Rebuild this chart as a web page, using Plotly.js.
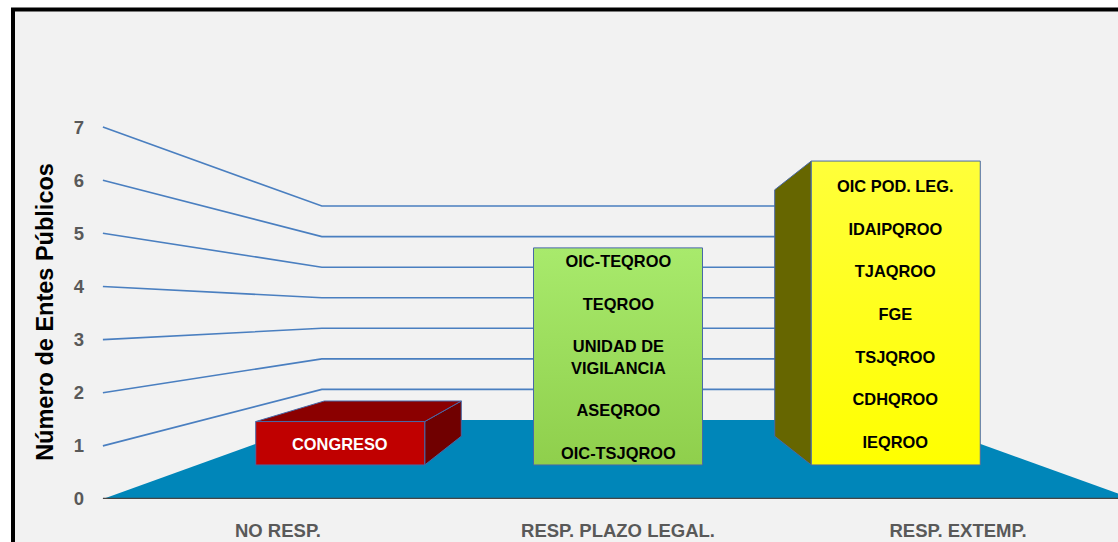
<!DOCTYPE html>
<html>
<head>
<meta charset="utf-8">
<script src="https://cdn.plot.ly/plotly-3.0.1.min.js"></script>
<style>html,body{margin:0;padding:0;background:#fff;}#chart{width:1118px;height:542px;}</style>
</head>
<body>
<div id="chart"></div>
<script>
// ---------------- data ----------------
const categories = ['NO RESP.', 'RESP. PLAZO LEGAL.', 'RESP. EXTEMP.'];
const values = [1, 5, 7];
const barLabels = [
  ['CONGRESO'],
  ['OIC-TEQROO', 'TEQROO', 'UNIDAD DE<br>VIGILANCIA', 'ASEQROO', 'OIC-TSJQROO'],
  ['OIC POD. LEG.', 'IDAIPQROO', 'TJAQROO', 'FGE', 'TSJQROO', 'CDHQROO', 'IEQROO']
];
const yTicks = [0, 1, 2, 3, 4, 5, 6, 7];

// ---------------- styles ----------------
const frontTop = ['#C00000', '#A8EA6C', '#FFFF3A'];
const frontBottom = ['#C00000', '#8FCF4C', '#FFFF00'];
const topColors = ['#8B0000', '#7DB83E', '#D8D800'];
const sideColors = ['#700000', '#5E8A2E', '#666600'];
const labelColors = ['#FFFFFF', '#000000', '#000000'];
const edgeColor = 'rgb(72,104,168)';
const floorColor = '#0086B9';
const gridColor = '#4A7FC0';
const FONT = 'Liberation Sans, Arial, sans-serif';

// perspective (in front-plane axis units)
const VX = 1.0, VY = 3.5;          // vanishing point
const R_FRONT = 0.817, R_BACK = 0.6624, R_WALL = 0.575;
const WALL_L = -0.515, WALL_R = 2.515;
const BAR_W = 0.6084;

function proj(x, v, r) { return [VX + r * (x - VX), VY + r * (v - VY)]; }
function poly(pts) {
  const xs = pts.map(p => p[0]), ys = pts.map(p => p[1]);
  xs.push(xs[0]); ys.push(ys[0]);
  return {x: xs, y: ys};
}

const traces = [];

// floor
const floorPts = poly([proj(WALL_L, 0, 1), proj(WALL_R, 0, 1), proj(WALL_R, 0, R_WALL), proj(WALL_L, 0, R_WALL)]);
traces.push({type: 'scatter', mode: 'lines', x: floorPts.x, y: floorPts.y, fill: 'toself',
  fillcolor: floorColor, line: {width: 0, color: floorColor}, hoverinfo: 'skip', showlegend: false});

// walls grid lines
const gx = [], gy = [];
yTicks.filter(t => t > 0).forEach(t => {
  [proj(WALL_L, t, 1), proj(WALL_L, t, R_WALL), proj(WALL_R, t, R_WALL)].forEach(p => { gx.push(p[0]); gy.push(p[1]); });
  gx.push(null); gy.push(null);
});
traces.push({type: 'scatter', mode: 'lines', x: gx, y: gy, line: {color: gridColor, width: 1.6},
  hoverinfo: 'skip', showlegend: false, connectgaps: false});

// floor front edge
const fe = [proj(WALL_L, 0, 1), proj(WALL_R, 0, 1)];
traces.push({type: 'scatter', mode: 'lines', x: fe.map(p => p[0]), y: fe.map(p => p[1]),
  line: {color: '#454545', width: 2.5}, hoverinfo: 'skip', showlegend: false});

const annotations = [];

categories.forEach((c, i) => {
  const v = values[i];
  const xl = i - BAR_W / 2, xr = i + BAR_W / 2;
  // side face
  if (Math.abs(i - VX) > 1e-6) {
    const xe = i < VX ? xr : xl;
    const s = poly([proj(xe, 0, R_FRONT), proj(xe, v, R_FRONT), proj(xe, v, R_BACK), proj(xe, 0, R_BACK)]);
    traces.push({type: 'scatter', mode: 'lines', x: s.x, y: s.y, fill: 'toself', fillcolor: sideColors[i],
      line: {color: edgeColor, width: 1}, hoverinfo: 'skip', showlegend: false});
  }
  // top face
  if (v < VY) {
    const t = poly([proj(xl, v, R_FRONT), proj(xr, v, R_FRONT), proj(xr, v, R_BACK), proj(xl, v, R_BACK)]);
    traces.push({type: 'scatter', mode: 'lines', x: t.x, y: t.y, fill: 'toself', fillcolor: topColors[i],
      line: {color: edgeColor, width: 1}, hoverinfo: 'skip', showlegend: false});
  }
  // front face
  const b0 = proj(xl, 0, R_FRONT), t1 = proj(xr, v, R_FRONT);
  const f = poly([b0, proj(xr, 0, R_FRONT), t1, proj(xl, v, R_FRONT)]);
  traces.push({type: 'scatter', mode: 'lines', x: f.x, y: f.y, fill: 'toself',
    fillgradient: {type: 'vertical', start: b0[1], stop: t1[1], colorscale: [[0, frontBottom[i]], [1, frontTop[i]]]},
    line: {color: edgeColor, width: 1}, hoverinfo: 'skip', showlegend: false});
  // labels
  const mid = proj(i, v / 2, R_FRONT);
  annotations.push({x: mid[0], y: mid[1], yshift: -1, xref: 'x', yref: 'y', showarrow: false,
    text: barLabels[i].join('<br><br>'), align: 'center',
    font: {family: FONT, size: 16.4, weight: 'bold', color: labelColors[i]}});
});

// pixel helpers for the frame (layout geometry)
const ML = 95, MT = 125, MB = 43, W = 1118, H = 542;
const PW = W - ML, PH = H - MT - MB;
const pxX = px => (px - ML) / PW;
const pxY = py => (H - MB - py) / PH;

const layout = {
  width: W, height: H,
  margin: {l: ML, r: 0, t: MT, b: MB, pad: 0},
  paper_bgcolor: '#FFFFFF', plot_bgcolor: 'rgba(0,0,0,0)',
  showlegend: false,
  xaxis: {range: [(95 - 278) / 340, (1118 - 278) / 340], tickvals: [0, 1, 2], ticktext: categories,
    showgrid: false, zeroline: false, showline: false, ticks: '', ticklabelstandoff: 18,
    tickfont: {family: FONT, size: 18.5, weight: 'bold', color: '#595959'}, fixedrange: true},
  yaxis: {range: [0, PH / 53.14], tickvals: yTicks, showgrid: false, zeroline: false, showline: false,
    ticks: '', ticklabelstandoff: 10,
    tickfont: {family: FONT, size: 18.5, weight: 'bold', color: '#595959'},
    title: {text: 'Número de Entes Públicos', standoff: 13,
      font: {family: FONT, size: 23.5, weight: 'bold', color: '#000000'}}, fixedrange: true},
  shapes: [{type: 'rect', xref: 'paper', yref: 'paper', layer: 'below',
    x0: pxX(13), x1: pxX(1130), y0: pxY(560), y1: pxY(9.5),
    fillcolor: '#F2F2F2', line: {color: '#000000', width: 4}}],
  annotations: annotations
};

Plotly.newPlot('chart', traces, layout, {displayModeBar: false, staticPlot: true});
</script>
</body>
</html>
